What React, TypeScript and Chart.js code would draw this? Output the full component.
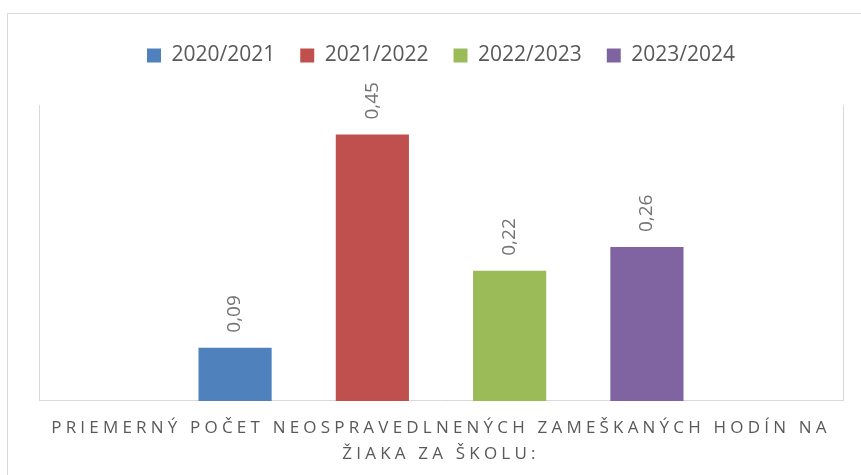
import React, { useEffect, useRef } from "react";
import { Chart, registerables, CategoryScale } from "chart.js";

Chart.register(...registerables);

class SpacedCategory extends CategoryScale {
  static id = "spacedCategory";
  static defaults = CategoryScale.defaults;
  drawLabels(area: any) {
    const ctx = this.ctx as any;
    ctx.save();
    ctx.letterSpacing = "4.2px";
    super.drawLabels(area);
    ctx.restore();
  }
}
Chart.register(SpacedCategory);

const categories = [["PRIEMERNÝ POČET NEOSPRAVEDLNENÝCH ZAMEŠKANÝCH HODÍN NA", "ŽIAKA ZA ŠKOLU:"]];
const seriesNames = ["2020/2021", "2021/2022", "2022/2023", "2023/2024"];
const values2020 = [0.09];
const values2021 = [0.45];
const values2022 = [0.22];
const values2023 = [0.26];
const seriesColors = ["#4F81BD", "#C0504D", "#9BBB59", "#8064A2"];

const FONT = "'Open Sans', 'Noto Sans', sans-serif";
const GRID = "#d9d9d9";

const frame = {
  id: "frame",
  beforeInit(chart: any) {
    const legend = chart.legend;
    if (legend && !legend.__patched) {
      const orig = legend.fit;
      legend.fit = function () {
        orig.call(this);
        this.height += 29;
      };
      legend.__patched = true;
    }
  },
  beforeDraw(chart: any) {
    const ctx = chart.ctx;
    ctx.save();
    ctx.strokeStyle = GRID;
    ctx.lineWidth = 1;
    ctx.strokeRect(7.5, 13.5, 870, 480);
    ctx.restore();
  },
  afterDatasetsDraw(chart: any) {
    const ctx = chart.ctx;
    ctx.save();
    ctx.font = `19px ${FONT}`;
    ctx.fillStyle = "#737373";
    ctx.textAlign = "left";
    ctx.textBaseline = "middle";
    chart.data.datasets.forEach((ds: any, i: number) => {
      const meta = chart.getDatasetMeta(i);
      meta.data.forEach((bar: any, j: number) => {
        const v = ds.data[j];
        const txt = v.toFixed(2).replace(".", ",");
        ctx.save();
        ctx.translate(bar.x, bar.y - 15);
        ctx.rotate(-Math.PI / 2);
        ctx.fillText(txt, 0, 0);
        ctx.restore();
      });
    });
    ctx.restore();
  },
};

export default function App() {
  const ref = useRef<HTMLCanvasElement>(null);
  useEffect(() => {
    const allSeries = [values2020, values2021, values2022, values2023];
    const chart = new Chart(ref.current!, {
      type: "bar",
      data: {
        labels: categories as any,
        datasets: seriesNames.map((name, i) => ({
          label: name,
          data: allSeries[i],
          backgroundColor: seriesColors[i],
          borderWidth: 0,
          categoryPercentage: 0.683,
          barPercentage: 0.533,
        })),
      },
      options: {
        animation: false,
        responsive: false,
        maintainAspectRatio: false,
        layout: { padding: { top: 20, left: 39, right: 18, bottom: -6 } },
        plugins: {
          tooltip: { enabled: false },
          legend: {
            position: "top",
            labels: {
              boxWidth: 14,
              boxHeight: 14,
              padding: 25,
              color: "#595959",
              font: { family: FONT, size: 21 },
            },
          },
        },
        scales: {
          x: {
            type: "spacedCategory" as any,
            grid: { display: false, drawTicks: false },
            border: { display: true, color: GRID, width: 1 },
            ticks: {
              color: "#595959",
              font: { family: FONT, size: 17, lineHeight: 1.53 },
              padding: 14,
              maxRotation: 0,
              minRotation: 0,
              autoSkip: false,
            },
          },
          y: {
            min: 0,
            max: 0.5,
            grid: { display: false, drawTicks: false },
            border: { display: true, color: GRID, width: 1 },
            ticks: { display: false },
          },
          y2: {
            position: "right",
            min: 0,
            max: 0.5,
            grid: { display: false, drawTicks: false },
            border: { display: true, color: GRID, width: 1 },
            ticks: { display: false },
          },
        },
      },
      plugins: [frame],
    });
    return () => chart.destroy();
  }, []);
  return (
    <div style={{ position: "fixed", left: 0, top: 0, width: 861, height: 475, background: "#fff" }}>
      <canvas ref={ref} width={861} height={475} style={{ width: 861, height: 475, display: "block" }} />
    </div>
  );
}
